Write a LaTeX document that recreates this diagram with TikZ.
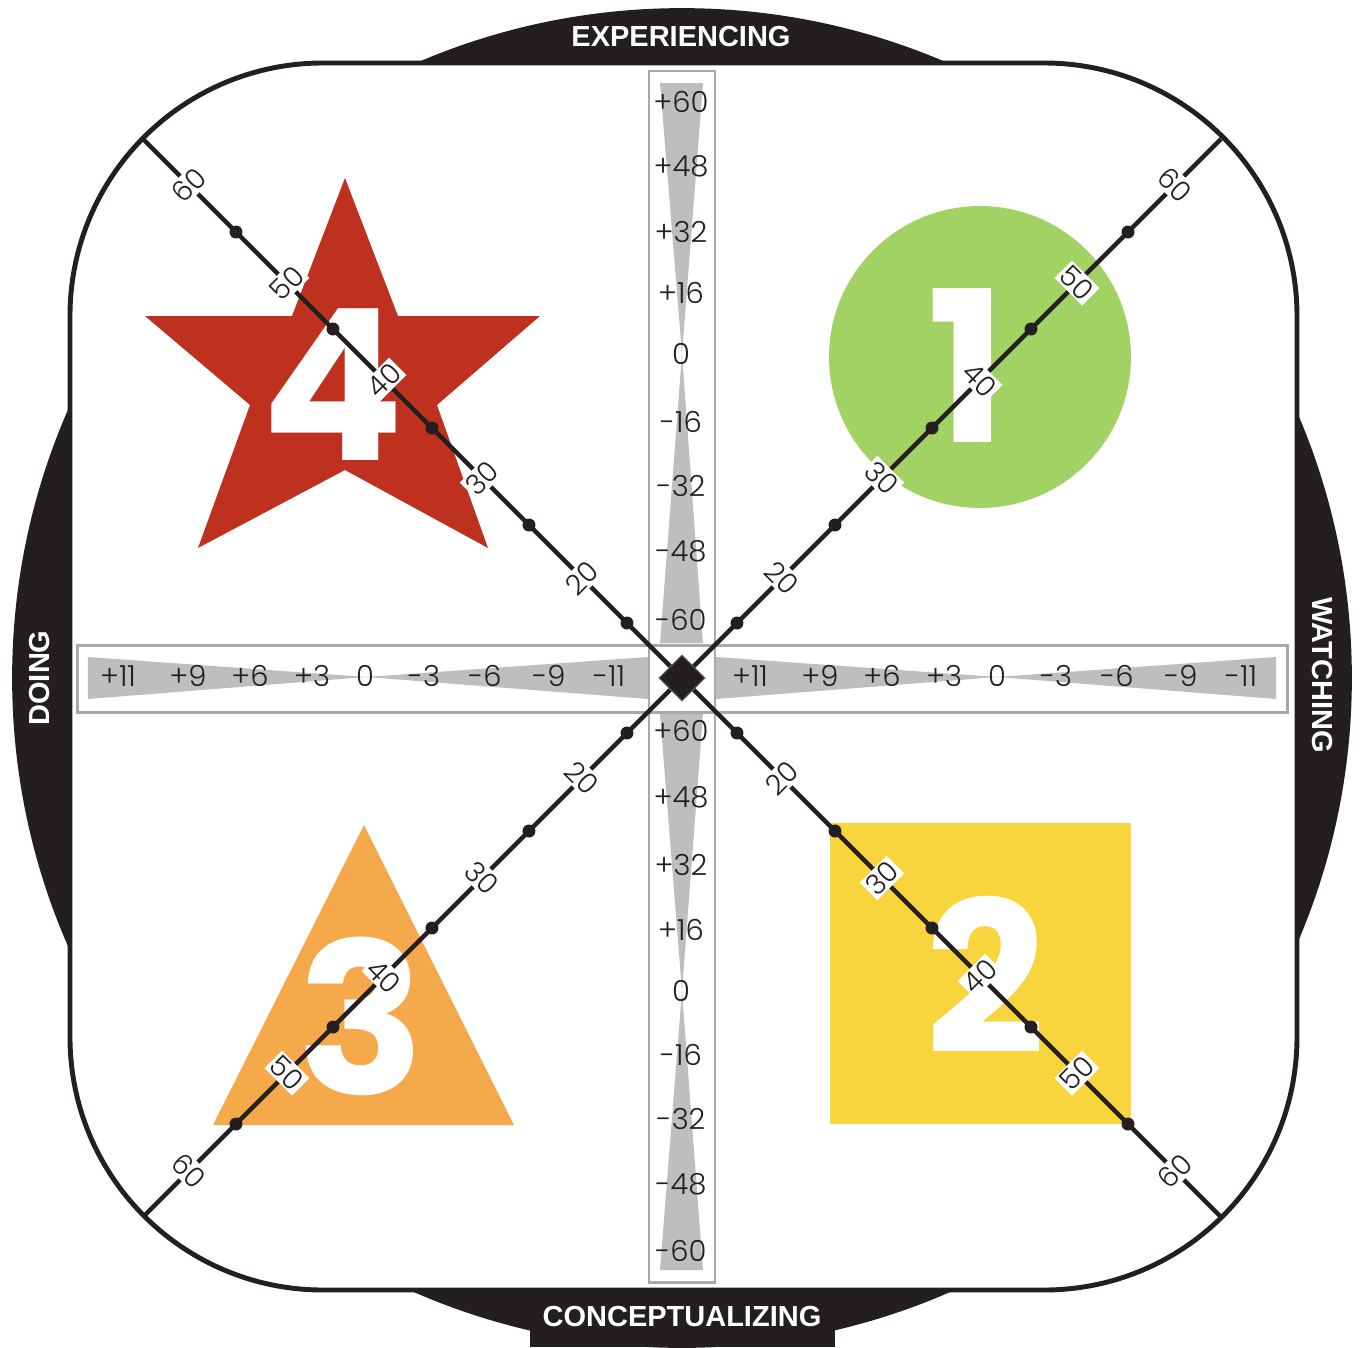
\documentclass[tikz,border=0pt]{standalone}
\usepackage{fontspec}
\setmainfont{Poppins}
\newfontfamily\headfont{Liberation Sans}
\newfontfamily\thinfont{Poppins Light}
\usetikzlibrary{shapes.geometric}
\definecolor{ink}{HTML}{231F20}
\definecolor{scalegray}{HTML}{BCBEC0}
\definecolor{boxgray}{HTML}{A7A9AC}
\definecolor{leafgreen}{HTML}{A3D264}
\definecolor{starred}{HTML}{BE311E}
\definecolor{tangerine}{HTML}{F5A94A}
\definecolor{sun}{HTML}{F8D53C}
\tikzset{board/.style={draw=ink,fill=white,line width=2.8pt,rounded corners=5.06cm},
  axislabel/.style={font=\headfont\bfseries\fontsize{16.5}{16.5}\selectfont,text=white,inner sep=0pt},
  scalebox/.style={draw=boxgray,line width=1.7pt},
  taper/.style={fill=scalegray},
  scalenum/.style={font=\thinfont\fontsize{16.5}{16.5}\selectfont,text=ink,inner sep=0pt},
  spoke/.style={draw=ink,line width=2.6pt},
  ringnum/.style={font=\thinfont\fontsize{16}{16}\selectfont,text=ink,fill=white,inner sep=1.2pt},
  bignum/.style={font=\bfseries\fontsize{120}{120}\selectfont,text=white,inner sep=0pt},
  hubmark/.style={diamond,fill=ink,draw=ink!70,line width=0.6pt,inner sep=0pt,minimum size=0.92cm}}
% one hourglass scale: tip and the two wide ends
\newcommand{\vtaper}[3]{\fill[taper](-22,#2)--(21,#2)--(0,#1)--cycle;\fill[taper](-22,#3)--(21,#3)--(0,#1)--cycle;}
\newcommand{\htaper}[3]{\fill[taper](#2,21)--(#2,-21)--(#1,1)--cycle;\fill[taper](#3,21)--(#3,-21)--(#1,1)--cycle;}

\begin{document}
\begin{tikzpicture}[x=0.02cm,y=0.02cm]
  \useasboundingbox (-682,-669) rectangle (680,678);
  % black ring behind the board
  \fill[ink](0,0)circle(13.4cm);\fill[ink](-152,-622)rectangle(153,-669);
  \draw[board](-612,-612)rectangle(615,615);
  \node[axislabel] (exp) at (-1,641) {EXPERIENCING};
  \node[axislabel] (con) at (0,-639) {CONCEPTUALIZING};
  \node[axislabel,rotate=90] (doi) at (-642,0) {DOING};
  \node[axislabel,rotate=-90] (wat) at (640,3) {WATCHING};
  % quadrant shapes
  \fill[leafgreen](298,321)circle(3.02cm);
  \fill[starred](-337,500)--(-284,362)--(-142,362)--(-245,273)--(-194,130)--(-337,208)--(-484,130)--(-432,273)--(-537,362)--(-390,362)--cycle;
  \fill[tangerine](-318,-147)--(-469,-447)--(-168,-447)--cycle;
  \fill[sun](148,-145)rectangle(449,-446);
  \node[bignum] (q1) at (285,312) {1};\node[bignum] (q2) at (304,-297) {2};
  \node[bignum] (q3) at (-321,-338) {3};\node[bignum] (q4) at (-349,293) {4};
  % scales
  \draw[scalebox](-33,-604)rectangle(33,607);\draw[scalebox](-604,-34)rectangle(605,33);
  \vtaper{324}{595}{35}\vtaper{-313}{-36}{-592}\htaper{-316}{-594}{-34}\htaper{315}{34}{594}
  \foreach \y/\v in {576/+60,512/+48,446/+32,385/+16,324/0,256/-16,192/-32,127/-48,58/-60}
    \node[scalenum] (vt\y) at (-1,\y) {\v};
  \foreach \y/\v in {53/+60,119/+48,187/+32,252/+16,313/0,377/-16,441/-32,506/-48,573/-60}
    \node[scalenum] (vb\y) at (-1,-\y) {\v};
  \foreach \x/\v in {68/+11,138/+9,200/+6,262/+3,315/0,374/-3,435/-6,499/-9,559/-11}{
    \node[scalenum] (hr\x) at (\x,2) {\v};\node[scalenum] (hl\x) at (\x-632,2) {\v};}
  % spokes from the hub
  \node[hubmark] (hub) at (0,0) {};
  \coordinate (ne) at (539,539);\coordinate (nw) at (-539,539);
  \coordinate (sw) at (-539,-539);\coordinate (se) at (539,-539);
  \foreach \e/\dx/\dy/\a in {ne/1/1/-45,sw/-1/-1/-45,nw/-1/1/45,se/1/-1/45}{
    \draw[spoke](hub)--(\e);
    \foreach \t in {55,153,250,349,446}\fill[ink](\dx*\t,\dy*\t)circle(0.13cm);
    \foreach \t/\v in {100/20,200/30,298/40,395/50,493/60}
      \node[ringnum,rotate=\a] (\e\v) at (\dx*\t,\dy*\t) {\v};}
\end{tikzpicture}
\end{document}
